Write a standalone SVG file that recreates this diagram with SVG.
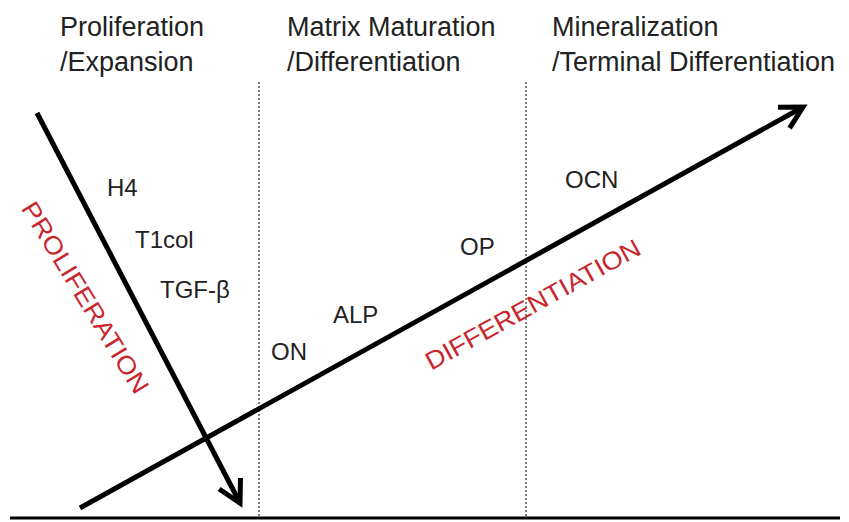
<svg xmlns="http://www.w3.org/2000/svg" width="849" height="522" viewBox="0 0 849 522">
<style>
.hdr{font-family:"Liberation Sans",Arial,sans-serif;font-size:27px;fill:#222}
.lbl{font-family:"Liberation Sans",Arial,sans-serif;font-size:24px;fill:#222}
.red{font-family:"Liberation Sans",Arial,sans-serif;font-size:25px;fill:#c8262e}
.arrow{stroke:#000;stroke-width:5;fill:none}
.dot{stroke:#555;stroke-width:1.5;stroke-dasharray:2 2;fill:none}
</style>
<defs>
<marker id="head" markerUnits="userSpaceOnUse" viewBox="-30 -20 40 40" refX="0" refY="0" markerWidth="40" markerHeight="40" orient="auto">
<path d="M-22,-12 L0,0 L-22,12" stroke="#000" stroke-width="5" fill="none" stroke-linejoin="miter"/>
</marker>
</defs>
<rect width="849" height="522" fill="#fff"/>
<g id="phase-proliferation">
<text class="hdr" x="60" y="36">Proliferation</text>
<text class="hdr" x="60" y="71">/Expansion</text>
</g>
<g id="phase-maturation">
<text class="hdr" x="287" y="36">Matrix Maturation</text>
<text class="hdr" x="287" y="71">/Differentiation</text>
</g>
<g id="phase-mineralization">
<text class="hdr" x="552" y="36">Mineralization</text>
<text class="hdr" x="552" y="71">/Terminal Differentiation</text>
</g>
<g id="dividers">
<line class="dot" x1="259" y1="82" x2="259" y2="517"/>
<line class="dot" x1="526" y1="82" x2="526" y2="517"/>
</g>
<g id="connectors">
<line x1="10" y1="518" x2="840" y2="518" stroke="#000" stroke-width="3"/>
<line class="arrow" x1="37" y1="113" x2="240" y2="503" marker-end="url(#head)"/>
<line class="arrow" x1="80" y1="508" x2="803" y2="107" marker-end="url(#head)"/>
</g>
<g id="markers-proliferation">
<text class="lbl" x="107" y="196">H4</text>
<text class="lbl" x="135" y="248">T1col</text>
<text class="lbl" x="160" y="298">TGF-β</text>
</g>
<g id="markers-differentiation">
<text class="lbl" x="271" y="360">ON</text>
<text class="lbl" x="333" y="323">ALP</text>
<text class="lbl" x="460" y="255">OP</text>
<text class="lbl" x="565" y="188">OCN</text>
</g>
<g id="label-proliferation">
<text class="red" x="0" y="0" text-anchor="middle" textLength="220" lengthAdjust="spacingAndGlyphs" transform="translate(78,302) rotate(58.5)">PROLIFERATION</text>
</g>
<g id="label-differentiation">
<text class="red" x="0" y="0" text-anchor="middle" textLength="242" lengthAdjust="spacingAndGlyphs" transform="translate(537,312) rotate(-29)">DIFFERENTIATION</text>
</g>
</svg>
